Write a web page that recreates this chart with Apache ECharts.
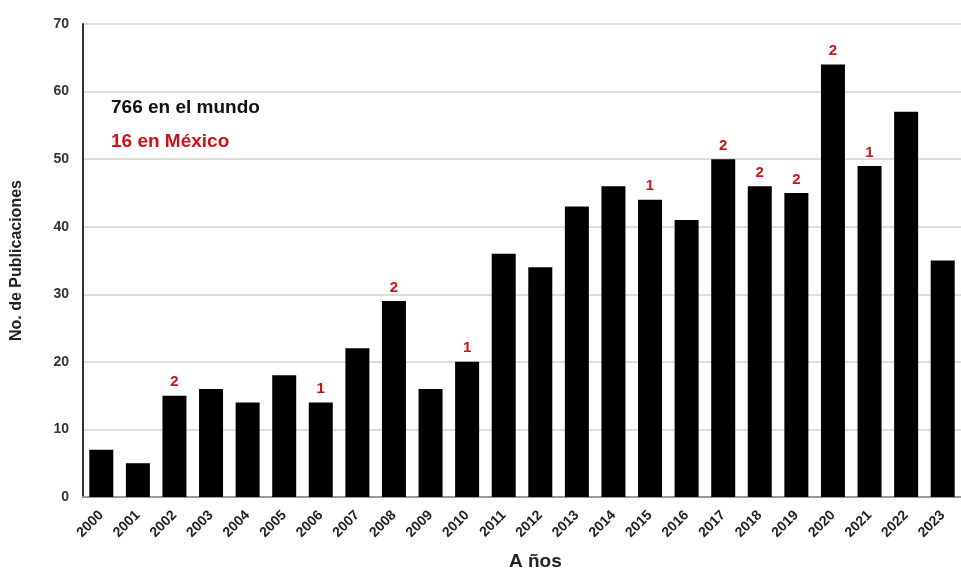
<!DOCTYPE html>
<html>
<head>
<meta charset="utf-8">
<script src="https://cdn.jsdelivr.net/npm/echarts@6/dist/echarts.min.js"></script>
<style>html,body{margin:0;padding:0;background:#fff}#c{width:961px;height:573px}</style>
</head>
<body>
<div id="c"></div>
<script>
const years = ['2000','2001','2002','2003','2004','2005','2006','2007','2008','2009','2010','2011','2012','2013','2014','2015','2016','2017','2018','2019','2020','2021','2022','2023'];
const worldPubs = [7,5,15,16,14,18,14,22,29,16,20,36,34,43,46,44,41,50,46,45,64,49,57,35];
const mexicoPubs = [0,0,2,0,0,0,1,0,2,0,1,0,0,0,0,1,0,2,2,2,2,1,0,0];
const yTicks = [0,10,20,30,40,50,60,70];

const FONT = '"Liberation Sans", Arial, sans-serif';
const chart = echarts.init(document.getElementById('c'), null, {renderer:'canvas'});
const data = worldPubs.map((v,i)=>({
  value: v,
  label: {show: mexicoPubs[i] > 0, formatter: String(mexicoPubs[i])}
}));
chart.setOption({
  animation:false,
  backgroundColor:'#fff',
  grid:{left:83, top:24, width:886, bottom:76, containLabel:false},
  xAxis:{
    type:'category', data:years,
    axisLine:{lineStyle:{color:'#999', width:2}},
    axisTick:{show:false},
    axisLabel:{rotate:45, interval:0, color:'#222', fontFamily:FONT, fontWeight:'bold', fontSize:14, margin:16}
  },
  yAxis:{
    type:'value', min:yTicks[0], max:yTicks[yTicks.length-1], interval:10,
    name:'No. de Publicaciones', nameLocation:'middle', nameGap:58, nameRotate:90,
    nameTextStyle:{color:'#222', fontFamily:FONT, fontWeight:'bold', fontSize:16},
    axisLine:{show:true, lineStyle:{color:'#333', width:2}},
    axisTick:{show:false},
    axisLabel:{color:'#333', fontFamily:FONT, fontWeight:'bold', fontSize:14, margin:14, padding:[0,0,6,0]},
    splitLine:{lineStyle:{color:'#dcdcdc', width:2}}
  },
  series:[{
    type:'bar', data:data, barWidth:24,
    itemStyle:{color:'#000'},
    label:{position:'top', distance:6, color:'#d0101a', fontFamily:FONT, fontWeight:'bold', fontSize:15}
  }],
  graphic:[
    {type:'text', left:111, top:98, style:{text:'766 en el mundo', fill:'#111', font:'bold 19px '+FONT}},
    {type:'text', left:111, top:132, style:{text:'16 en México', fill:'#d0101a', font:'bold 19px '+FONT}},
    {type:'text', left:509, top:552, style:{text:'A ños', fill:'#222', font:'bold 19px '+FONT}}
  ]
});
</script>
</body>
</html>
